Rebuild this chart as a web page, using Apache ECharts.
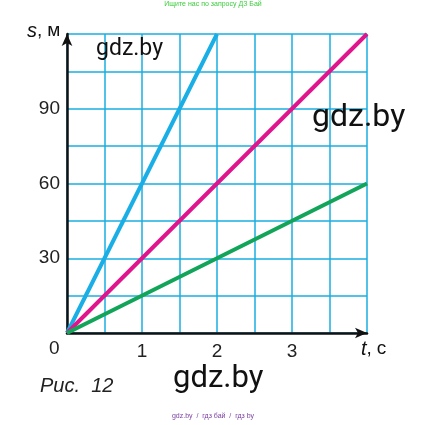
<!DOCTYPE html>
<html><head><meta charset="utf-8">
<script src="https://cdn.jsdelivr.net/npm/echarts@6/dist/echarts.min.js"></script>
<style>html,body{margin:0;padding:0;background:#fff}#c{width:426px;height:425px}</style>
</head><body><div id="c"></div>
<script>
// data
var xTicks = [1, 2, 3];
var yTicks = [30, 60, 90];
var blueT = [0, 2], blueS = [0, 120];
var pinkT = [0, 4], pinkS = [0, 120];
var greenT = [0, 4], greenS = [0, 60];

function pts(t, s){ return t.map(function(v,i){ return [v, s[i]]; }); }

var chart = echarts.init(document.getElementById('c'), null, {renderer:'canvas'});
var gridColor = '#1aaee0';
var txtRich = {
  i: {fontStyle: 'italic', fontSize: 20, fontFamily: 'Liberation Sans', fill: '#111'},
  m: {fontSize: 19, fontFamily: 'Liberation Sans', fill: '#111', padding: [0, 0, 0, 5]}
};
var option = {
  animation: false,
  grid: {left: 67, top: 34, width: 300, height: 299, containLabel: false},
  xAxis: {
    type: 'value', min: 0, max: 4, interval: 0.5,
    axisLine: {show: true, lineStyle: {color: '#111', width: 2.5}, symbol: ['none', 'arrow'], symbolSize: [8, 12]},
    axisTick: {show: false},
    splitLine: {show: true, lineStyle: {color: gridColor, width: 1.5}},
    axisLabel: {
      margin: 9, fontSize: 19, color: '#222', fontFamily: 'Liberation Sans',
      formatter: function(v){ return xTicks.indexOf(v) >= 0 ? String(v) : ''; }
    }
  },
  yAxis: {
    type: 'value', min: 0, max: 120, interval: 15,
    axisLine: {show: true, lineStyle: {color: '#111', width: 2.5}, symbol: ['none', 'arrow'], symbolSize: [8, 12]},
    axisTick: {show: false},
    splitLine: {show: true, lineStyle: {color: gridColor, width: 1.5}},
    axisLabel: {
      margin: 7, fontSize: 19, color: '#222', fontFamily: 'Liberation Sans',
      formatter: function(v){ return yTicks.indexOf(v) >= 0 ? String(v) : ''; }
    }
  },
  series: [
    {type: 'line', data: pts(blueT, blueS), symbol: 'none', lineStyle: {color: '#19aee6', width: 4}, z: 3},
    {type: 'line', data: pts(pinkT, pinkS), symbol: 'none', lineStyle: {color: '#e0148c', width: 4}, z: 3},
    {type: 'line', data: pts(greenT, greenS), symbol: 'none', lineStyle: {color: '#12a55a', width: 4}, z: 3}
  ],
  graphic: [
    {type: 'text', left: 'center', top: 1, style: {text: 'Ищите нас по запросу ДЗ Бай', fontSize: 7, fill: '#3ccc3c', fontFamily: 'Liberation Sans'}},
    {type: 'text', x: 27, y: 21, style: {text: '{i|s},{m|м}', rich: txtRich, fontSize: 19, fontFamily: 'Liberation Sans', fill: '#111'}},
    {type: 'text', x: 49, y: 339, style: {text: '0', fontSize: 19, fontFamily: 'Liberation Sans', fill: '#222'}},
    {type: 'text', x: 361, y: 339, style: {text: '{i|t},{m|c}', rich: txtRich, fontSize: 19, fontFamily: 'Liberation Sans', fill: '#111'}},
    {type: 'text', x: 40, y: 376, style: {text: 'Рис.  12', fontStyle: 'italic', fontSize: 20, fontFamily: 'Liberation Sans', fill: '#222'}},
    {type: 'text', x: 96, y: 38, z: 10, style: {text: 'gdz.by', fontSize: 23, fontFamily: 'Roboto', fill: '#111'}},
    {type: 'text', x: 312, y: 102, z: 10, style: {text: 'gdz.by', fontSize: 32, fontFamily: 'Roboto', fill: '#111'}},
    {type: 'text', x: 173, y: 364, z: 10, style: {text: 'gdz.by', fontSize: 31, fontFamily: 'Roboto', fill: '#111'}},
    {type: 'text', left: 'center', top: 413, style: {text: 'gdz.by  /  гдз бай  /  гдз by', fontSize: 7, fill: '#7b3fa0', fontFamily: 'Liberation Sans'}}
  ]
};
chart.setOption(option);
</script></body></html>
